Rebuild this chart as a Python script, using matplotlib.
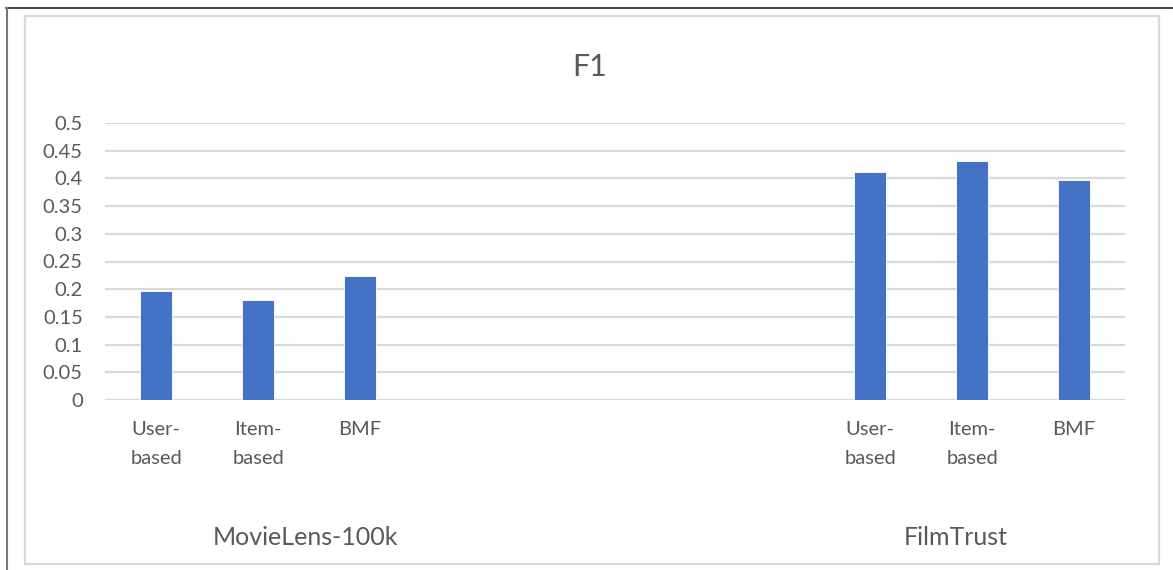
import numpy as np
import matplotlib
matplotlib.use("Agg")
from matplotlib import pyplot as plt
from matplotlib.lines import Line2D
from matplotlib.patches import Rectangle

plt.rcParams['font.family'] = ['Lato', 'DejaVu Sans']

# F1 scores per method on each dataset
methods = ["User-\nbased", "Item-\nbased", "BMF"]
datasets = ["MovieLens-100k", "FilmTrust"]
f1_movielens = [0.196, 0.180, 0.223]
f1_filmtrust = [0.411, 0.431, 0.398]
n_blank = 4  # empty category rows between the two datasets
yticks = [0, 0.05, 0.1, 0.15, 0.2, 0.25, 0.3, 0.35, 0.4, 0.45, 0.5]

text_color = "#595959"
grid_color = "#D9D9D9"
bar_color = "#4472C4"

# one category slot per row of the sheet, blanks in between
cats = methods + [""] * n_blank + methods
vals = f1_movielens + [np.nan] * n_blank + f1_filmtrust
x = np.arange(len(cats))

fig = plt.figure(figsize=(11.73, 5.70), dpi=100)
ax = fig.add_axes([105 / 1173, 1 - 400 / 570, 1020 / 1173, 277 / 570])

ax.bar(x, vals, width=0.32, color=bar_color, edgecolor="white", linewidth=0.6, zorder=3)

ax.set_xlim(-0.5, len(cats) - 0.5)
ax.set_ylim(0, 0.5)
ax.set_yticks(yticks)
ax.set_yticklabels([f"{t:g}" for t in yticks])
ax.set_xticks(x)
ax.set_xticklabels(cats, linespacing=1.9)
ax.tick_params(axis="y", length=0, pad=16, labelsize=14.5, labelcolor=text_color)
ax.tick_params(axis="x", length=0, pad=15, labelsize=14.5, labelcolor=text_color)
for lbl in ax.get_xticklabels():
    lbl.set_verticalalignment("top")

ax.grid(axis="y", color=grid_color, linewidth=1.6, zorder=0)
for s in ax.spines.values():
    s.set_visible(False)

# dataset names under each group
group_x = [1.47, 7.84]
for gx, name in zip(group_x, datasets):
    ax.text(gx, -0.498, name, transform=ax.get_xaxis_transform(),
            ha="center", va="center", fontsize=18, color=text_color)

fig.text(590 / 1173, 1 - 67 / 570, "F1", ha="center", va="center",
         fontsize=22, color=text_color)

# chart frame and page edges
W, H = 1173, 570
fig.add_artist(Rectangle((25 / W, 1 - 564 / H), 1134 / W, 548 / H,
                         transform=fig.transFigure, fill=False,
                         edgecolor=grid_color, linewidth=1.6))
fig.add_artist(Line2D([6 / W, 1], [1 - 7.5 / H, 1 - 7.5 / H],
                      transform=fig.transFigure, color="#222222", linewidth=1.2))
fig.add_artist(Line2D([6.5 / W, 6.5 / W], [0, 1 - 7.5 / H],
                      transform=fig.transFigure, color="#777777", linewidth=1.5))

fig.savefig("out.png", dpi=100, facecolor="white")
